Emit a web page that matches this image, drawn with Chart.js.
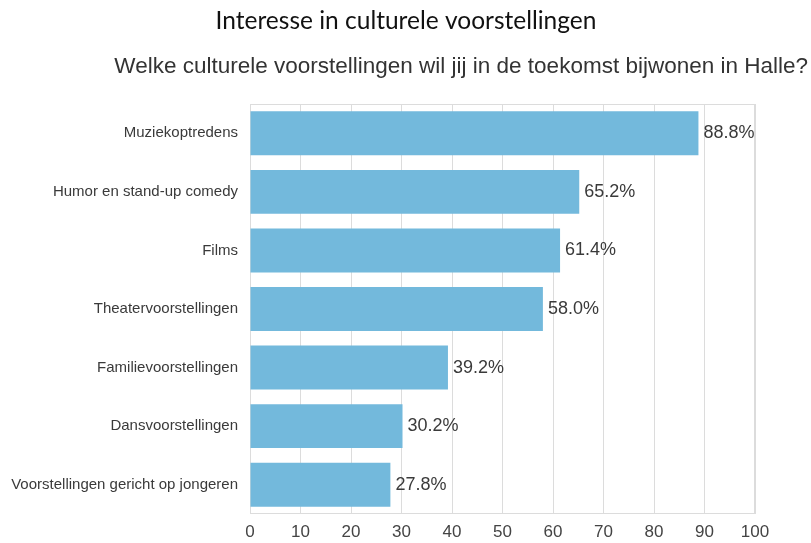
<!DOCTYPE html>
<html>
<head>
<meta charset="utf-8">
<script src="https://cdn.jsdelivr.net/npm/chart.js@4"></script>
<style>
    html, body { margin: 0; padding: 0; background: #ffffff; }
    #wrap { width: 811px; height: 543px; position: relative; }
</style>
</head>
<body>
<div id="wrap"><canvas id="chart"></canvas></div>
<script>
// ------------------------------------------------------------
// Data
// ------------------------------------------------------------
const chartTitle = 'Interesse in culturele voorstellingen';
const chartQuestion = 'Welke culturele voorstellingen wil jij in de toekomst bijwonen in Halle?';

const categories = [
    'Muziekoptredens',
    'Humor en stand-up comedy',
    'Films',
    'Theatervoorstellingen',
    'Familievoorstellingen',
    'Dansvoorstellingen',
    'Voorstellingen gericht op jongeren',
];
const percentages = [88.8, 65.2, 61.4, 58.0, 39.2, 30.2, 27.8];
const xTicks = [0, 10, 20, 30, 40, 50, 60, 70, 80, 90, 100];

const BAR_COLOR = '#73b9dc';
const GRID_COLOR = '#dcdcdc';
const TEXT_COLOR = '#3a3a3a';
const ARIAL = "'Liberation Sans', Arial, sans-serif";

/**
 * Headings above the chart (title + survey question)
 */
const headingsPlugin = {
    id: 'headings',
    afterDraw(chart) {
        const { ctx } = chart;
        ctx.save();
        ctx.textBaseline = 'alphabetic';
        ctx.fillStyle = '#111111';
        ctx.textAlign = 'center';
        ctx.font = "24.5px Lato, 'Open Sans', sans-serif";
        ctx.fillText(chartTitle, 406, 29);
        ctx.fillStyle = '#333333';
        ctx.textAlign = 'right';
        ctx.font = '22.5px ' + ARIAL;
        ctx.fillText(chartQuestion, 808, 73);
        ctx.restore();
    },
};

/**
 * Light frame round the plot area
 */
const framePlugin = {
    id: 'frame',
    beforeDatasetsDraw(chart) {
        const { ctx, chartArea: a } = chart;
        ctx.save();
        ctx.strokeStyle = GRID_COLOR;
        ctx.lineWidth = 1;
        ctx.strokeRect(a.left + 0.5, a.top + 0.5, a.right - a.left - 1, a.bottom - a.top - 1);
        ctx.restore();
    },
};

/**
 * Percentage labels at the end of each bar
 */
const valueLabelPlugin = {
    id: 'valueLabels',
    afterDatasetsDraw(chart) {
        const { ctx } = chart;
        const meta = chart.getDatasetMeta(0);
        ctx.save();
        ctx.fillStyle = TEXT_COLOR;
        ctx.font = '18px ' + ARIAL;
        ctx.textAlign = 'left';
        ctx.textBaseline = 'middle';
        meta.data.forEach((bar, i) => {
            ctx.fillText(percentages[i].toFixed(1) + '%', bar.x + 5, bar.y);
        });
        ctx.restore();
    },
};

new Chart(document.getElementById('chart').getContext('2d'), {
    type: 'bar',
    data: {
        labels: categories,
        datasets: [{
            data: percentages,
            backgroundColor: BAR_COLOR,
            borderWidth: 0,
            barPercentage: 0.75,
            categoryPercentage: 1,
        }],
    },
    options: {
        indexAxis: 'y',
        responsive: true,
        maintainAspectRatio: false,
        animation: false,
        layout: { padding: { top: 104, right: 56, left: 0, bottom: 0 } },
        plugins: {
            legend: { display: false },
            tooltip: { enabled: false },
        },
        scales: {
            x: {
                min: 0,
                max: 100,
                afterBuildTicks(scale) {
                    scale.ticks = xTicks.map(v => ({ value: v }));
                },
                afterFit(scale) { scale.height = 29; },
                ticks: { color: '#444444', font: { family: ARIAL, size: 17 }, padding: 8, maxRotation: 0 },
                grid: { color: GRID_COLOR, drawTicks: false },
                border: { display: false },
            },
            y: {
                afterFit(scale) { scale.width = 250; },
                ticks: { color: TEXT_COLOR, font: { family: ARIAL, size: 15 }, padding: 12 },
                grid: { display: false, drawTicks: false },
                border: { display: false },
            },
        },
    },
    plugins: [headingsPlugin, framePlugin, valueLabelPlugin],
});
</script>
</body>
</html>
